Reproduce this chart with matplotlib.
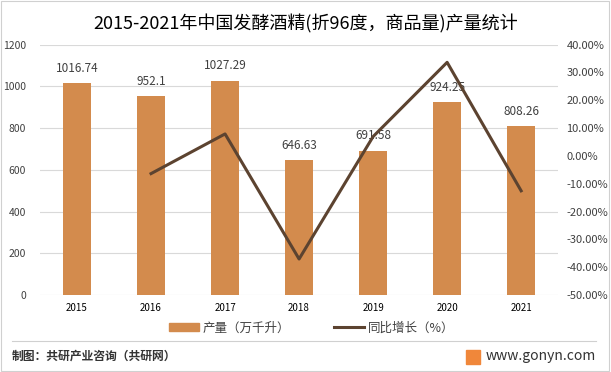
import numpy as np
import matplotlib.pyplot as plt
from matplotlib.patches import Rectangle
from matplotlib.lines import Line2D

plt.rcParams['font.family'] = ['Noto Sans CJK SC', 'DejaVu Sans']

# 数据
years = ["2015", "2016", "2017", "2018", "2019", "2020", "2021"]
output = [1016.74, 952.1, 1027.29, 646.63, 691.58, 924.25, 808.26]
growth = [np.nan, -6.36, 7.90, -37.06, 6.95, 33.64, -12.55]

bar_color = "#D38B4D"
line_color = "#5C4330"
grid_color = "#D9D9D9"
text_color = "#404040"

fig = plt.figure(figsize=(6.11, 3.72), dpi=100)
ax = fig.add_axes([0.0655, 0.207, 0.848, 0.673])
ax2 = ax.twinx()

x = np.arange(len(years))
ax.bar(x, output, width=0.38, color=bar_color, zorder=2)
for xi, v in zip(x, output):
    ax.annotate(f"{v:g}", (xi, v), xytext=(0, 6), textcoords="offset points",
                ha="center", va="bottom", fontsize=8.5, color=text_color)

ax.set_ylim(0, 1200)
ax.set_yticks(np.arange(0, 1201, 200))
ax.set_xlim(-0.5, len(years) - 0.5)
ax.set_xticks(x)
ax.set_xticklabels(years, fontsize=7, color="#000000")
ax.tick_params(axis="y", labelsize=7.5, colors=text_color, length=0, pad=10)
ax.tick_params(axis="x", length=0, pad=6)
ax.grid(axis="y", color=grid_color, linewidth=0.8, zorder=0)
ax.set_axisbelow(True)

ax2.plot(x, growth, color=line_color, linewidth=2.2, zorder=3)
ax2.set_ylim(-50, 40)
ax2.set_yticks(np.arange(-50, 41, 10))
ax2.set_yticklabels([f"{t:.2f}%" for t in np.arange(-50, 41, 10)])
ax2.tick_params(axis="y", labelsize=8, colors=text_color, length=0, pad=6)

for a in (ax, ax2):
    for s in a.spines.values():
        s.set_visible(False)

# 标题
fig.text(0.5, 0.935, "2015-2021年中国发酵酒精(折96度，商品量)产量统计",
         ha="center", va="center", fontsize=13, color="#000000")

# 图例
handles = [Rectangle((0, 0), 1, 1, color=bar_color),
           Line2D([0], [0], color=line_color, linewidth=2.2)]
fig.legend(handles, ["产量（万千升）", "同比增长（%）"], loc="center",
           bbox_to_anchor=(0.51, 0.118), ncol=2, frameon=False, fontsize=9,
           handlelength=2.4, handleheight=0.6, columnspacing=3.5, handletextpad=0.3,
           labelcolor=text_color)

# 底部
fig.add_artist(Line2D([0.02, 0.975], [0.083, 0.083], color="#D0D0D0", linewidth=0.8))
fig.text(0.02, 0.042, "制图：共研产业咨询（共研网）", ha="left", va="center",
         fontsize=8.5, fontweight="bold", color="#333333")
fig.add_artist(Rectangle((0.763, 0.022), 0.022, 0.038, color="#F0873A",
                         transform=fig.transFigure))
fig.text(0.975, 0.042, "www.gonyn.com", ha="right", va="center",
         fontsize=10, color="#333333")

# 外框
fig.add_artist(Rectangle((0.002, 0.003), 0.995, 0.994, fill=False,
                         edgecolor="#D0D0D0", linewidth=0.8, transform=fig.transFigure))

fig.savefig("out.png", dpi=100)
